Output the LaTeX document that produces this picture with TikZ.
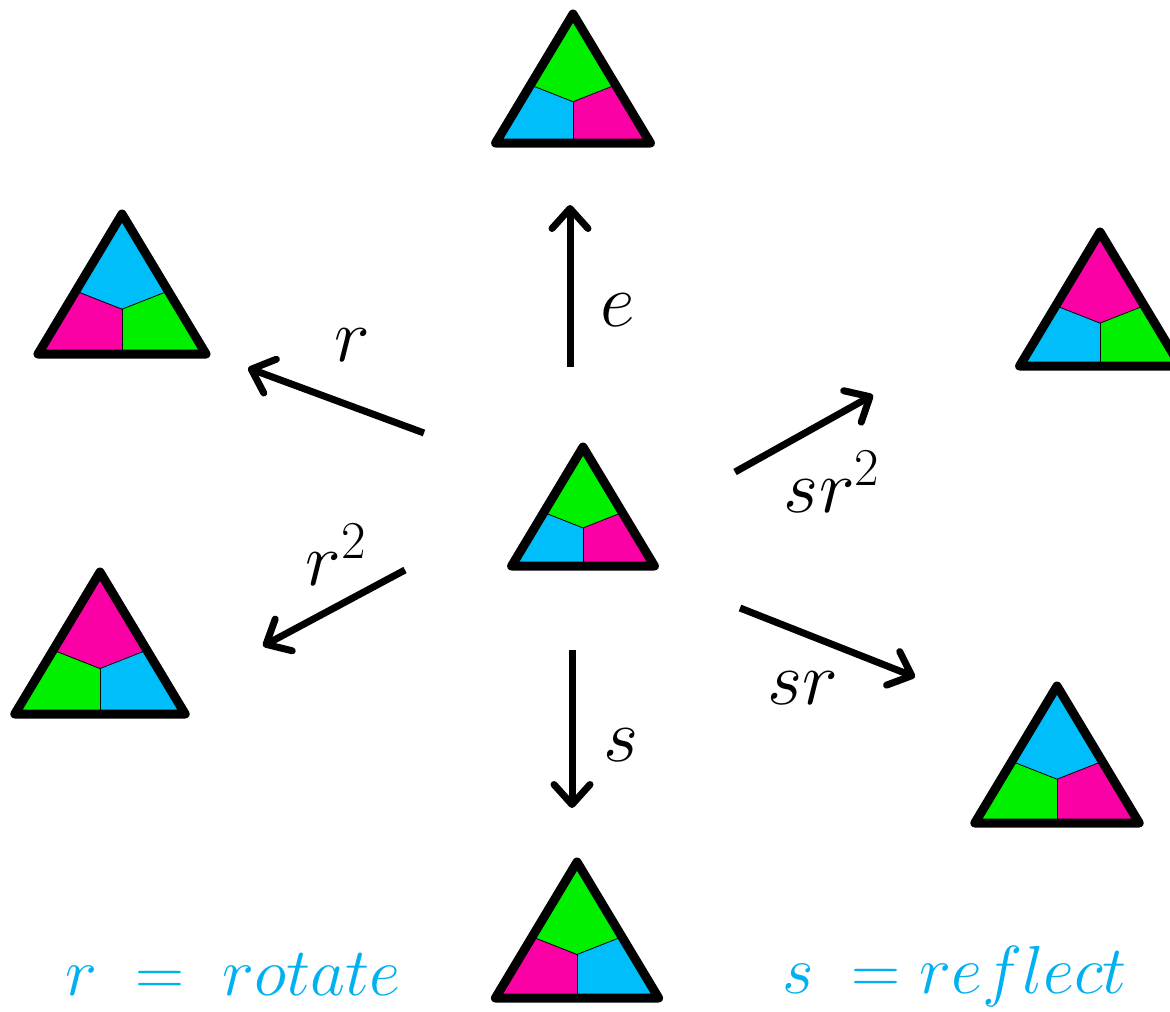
\RequirePackage{fix-cm}
\documentclass[tikz,border=0pt]{standalone}
\usepackage{amsmath}
\usetikzlibrary{arrows.meta}

\definecolor{tgreen}{RGB}{0,240,0}
\definecolor{tcyan}{RGB}{0,190,250}
\definecolor{tpink}{RGB}{250,0,165}
\definecolor{txtblue}{RGB}{0,176,240}

% triangle: apex x, apex y, height, top colour, left colour, right colour
\newcommand{\tri}[6]{%
  \begin{scope}[shift={(#1,#2)}]
    \fill[#4] (0,0) -- (-0.33*#3,0.55*#3) -- (0,0.68*#3) -- (0.33*#3,0.55*#3) -- cycle;
    \fill[#5] (-0.33*#3,0.55*#3) -- (-0.6*#3,#3) -- (0,#3) -- (0,0.68*#3) -- cycle;
    \fill[#6] (0.33*#3,0.55*#3) -- (0.6*#3,#3) -- (0,#3) -- (0,0.68*#3) -- cycle;
    \draw[thin] (-0.33*#3,0.55*#3) -- (0,0.68*#3) -- (0.33*#3,0.55*#3);
    \draw[thin] (0,0.68*#3) -- (0,#3);
    \draw[line width=4.5pt,line join=round] (0,0) -- (-0.6*#3,#3) -- (0.6*#3,#3) -- cycle;
  \end{scope}}

\begin{document}
\begin{tikzpicture}[x=0.5pt,y=-0.5pt,
    arr/.style={line width=3.5pt,-{Straight Barb[length=10pt,width=18pt,round]}},
    lbl/.style={font=\fontsize{38}{44}\selectfont},
    txt/.style={font=\fontsize{34}{40}\selectfont,text=txtblue,inner sep=0pt}]

    \useasboundingbox (0,0) rectangle (1170,1011);
    \clip (0,0) rectangle (1170,1011);

    % Triangles
    \tri{573}{14}{129}{tgreen}{tcyan}{tpink}     % e
    \tri{122}{214}{140}{tcyan}{tpink}{tgreen}    % r
    \tri{100}{572}{142}{tpink}{tgreen}{tcyan}    % r^2
    \tri{1100}{232}{134}{tpink}{tcyan}{tgreen}   % sr^2
    \tri{1057}{686}{137}{tcyan}{tgreen}{tpink}   % sr
    \tri{577}{862}{136}{tgreen}{tpink}{tcyan}    % s
    \tri{583}{447}{119}{tgreen}{tcyan}{tpink}    % start

    % Arrow ends
    \coordinate (e-tail) at (570,367);   \coordinate (e-head) at (570,205);
    \coordinate (r-tail) at (424,433);   \coordinate (r-head) at (248,368);
    \coordinate (rr-tail) at (405,570);  \coordinate (rr-head) at (263,646);
    \coordinate (s-tail) at (572,650);   \coordinate (s-head) at (572,808);
    \coordinate (srr-tail) at (735,472); \coordinate (srr-head) at (873,395);
    \coordinate (sr-tail) at (740,608);  \coordinate (sr-head) at (915,677);

    % Arrows
    \draw[arr] (e-tail) -- (e-head);
    \draw[arr] (r-tail) -- (r-head);
    \draw[arr] (rr-tail) -- (rr-head);
    \draw[arr] (s-tail) -- (s-head);
    \draw[arr] (srr-tail) -- (srr-head);
    \draw[arr] (sr-tail) -- (sr-head);

    % Labels
    \node[lbl] (lbl-e) at (618,310) {$e$};
    \node[lbl] (lbl-r) at (352,345) {$r$};
    \node[lbl] (lbl-rr) at (336,555) {$r^2$};
    \node[lbl] (lbl-s) at (621,745) {$s$};
    \node[lbl] (lbl-srr) at (832,482) {$sr^2$};
    \node[lbl] (lbl-sr) at (803,688) {$sr$};

    % Key
    \node[txt] (key-r) at (233,975) {$r\;=\;rotate$};
    \node[txt] (key-s) at (955,976) {$s\;=reflect$};

\end{tikzpicture}
\end{document}
